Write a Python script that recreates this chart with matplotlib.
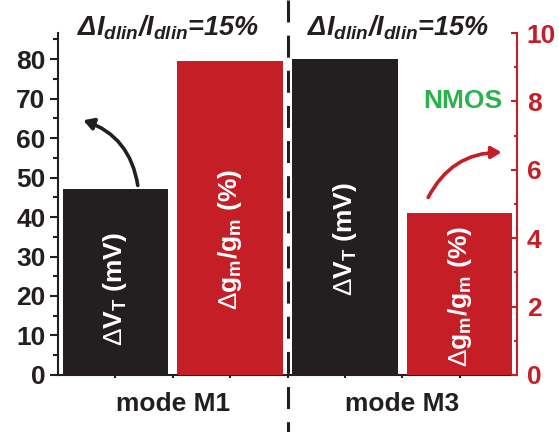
import matplotlib.pyplot as plt
import matplotlib.transforms as mtransforms
from matplotlib.patches import FancyArrowPatch

plt.rcParams['font.family'] = 'Liberation Sans'
plt.rcParams['font.weight'] = 'bold'
plt.rcParams['mathtext.fontset'] = 'custom'
plt.rcParams['mathtext.rm'] = 'Liberation Sans:weight=normal'
plt.rcParams['mathtext.it'] = 'Liberation Sans:italic:bold'
plt.rcParams['mathtext.bf'] = 'Liberation Sans:bold'

# data
modes = ['mode M1', 'mode M3']
dvt = [47.1, 80.1]          # delta V_T (mV), left axis
dgm = [9.18, 4.75]          # delta gm/gm (%), right axis
black_x = [1, 5]
red_x = [3, 7]
mode_x = [2, 6]

black = '#231f20'
red = '#c61e26'
green = '#2bb24c'

fig = plt.figure(figsize=(5.59, 4.32), dpi=100)
ax = fig.add_axes([0.1038, 0.132, 0.8212, 0.7916])
ax2 = ax.twinx()

ax.bar(black_x, dvt, width=1.84, color=black, zorder=2)
ax2.bar(red_x, dgm, width=1.84, color=red, zorder=2)

ax.set_xlim(0, 8)
ax.set_ylim(0, 86.6)
ax2.set_ylim(0, 10)

# left axis
ax.set_yticks(range(0, 81, 10))
ax.set_yticks(range(5, 86, 10), minor=True)
ax.tick_params(axis='y', which='major', direction='out', length=6, width=1.5,
               labelsize=19, pad=3, colors=black)
ax.tick_params(axis='y', which='minor', direction='out', length=3.5, width=1.5, colors=black)
ax.set_xticks(mode_x)
ax.set_xticklabels(modes)
ax.set_xticks([1, 3, 4, 5, 7], minor=True)
ax.tick_params(axis='x', which='both', direction='out', length=2.5, width=1.5,
               labelsize=19, pad=10, colors=black)
for lab in ax.get_yticklabels() + ax.get_xticklabels():
    lab.set_fontweight('bold')
ax.spines['top'].set_visible(False)
ax.spines['right'].set_visible(False)
ax.spines['left'].set_linewidth(1.5)
ax.spines['bottom'].set_linewidth(1.5)
ax.spines['left'].set_color(black)
ax.spines['bottom'].set_color(black)

# right axis
ax2.set_yticks(range(0, 11, 2))
ax2.set_yticks(range(1, 10, 2), minor=True)
ax2.tick_params(axis='y', which='major', direction='in', length=4.5, width=1.5,
                labelsize=19, pad=7, colors=red)
ax2.tick_params(axis='y', which='minor', direction='in', length=2.5, width=1.5, colors=red)
for lab in ax2.get_yticklabels():
    lab.set_fontweight('bold')
for s in ['top', 'left', 'bottom']:
    ax2.spines[s].set_visible(False)
ax2.spines['right'].set_color(red)
ax2.spines['right'].set_linewidth(1.5)

# labels inside bars
vt_label = r'$\Delta$V$_\mathregular{T}$ (mV)'
gm_label = r'$\Delta$g$_\mathregular{m}$/g$_\mathregular{m}$ (%)'
ax.text(1, 21.8, vt_label, rotation=90, color='white',
        fontsize=19, fontweight='bold', ha='center', va='center', zorder=3)
ax.text(5, 34.4, vt_label, rotation=90, color='white',
        fontsize=19, fontweight='bold', ha='center', va='center', zorder=3)
ax2.text(3, 3.96, gm_label, rotation=90,
         color='white', fontsize=19, fontweight='bold', ha='center', va='center', zorder=3)
ax2.text(7, 2.29, gm_label, rotation=90,
         color='white', fontsize=19, fontweight='bold', ha='center', va='center', zorder=3)

# titles
for xc in [1.92, 5.92]:
    ax.text(xc, 0.994, r'Δ$I_{dlin}$/$I_{dlin}$=15%', transform=ax.get_xaxis_transform(),
            fontsize=19.5, fontweight='bold', fontstyle='italic', ha='center',
            va='baseline', color=black)

ax2.text(7.05, 8.0, 'NMOS', color=green, fontsize=19, fontweight='bold',
         ha='center', va='center')

# arrows
a1 = FancyArrowPatch((1.39, 48), (0.44, 64.5), connectionstyle='arc3,rad=0.3',
                     arrowstyle='-|>,head_length=6,head_width=3.5', lw=2.6,
                     color=black, shrinkA=0, shrinkB=0, zorder=4)
ax.add_patch(a1)
a2 = FancyArrowPatch((6.45, 5.19), (7.73, 6.51), connectionstyle='arc3,rad=-0.3',
                     arrowstyle='-|>,head_length=6,head_width=3.5', lw=2.6,
                     color=red, shrinkA=0, shrinkB=0, zorder=4)
ax2.add_patch(a2)

# dashed divider across the whole figure
trans = mtransforms.blended_transform_factory(ax.transData, fig.transFigure)
ax.plot([4, 4], [1.0, 0.0], transform=trans, color=black, lw=2.2,
        dashes=(7.2, 4.3), clip_on=False, zorder=5)

fig.savefig('out.png', dpi=100)
